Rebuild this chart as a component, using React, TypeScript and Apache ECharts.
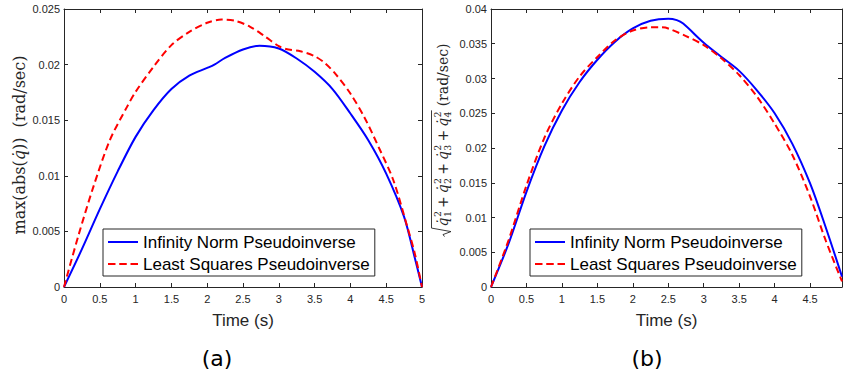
import React, { useEffect, useRef } from 'react';
import * as echarts from 'echarts';

// ---------- data: panel (a) max(abs(qdot)) ----------
const tA_inf = [0, 0.25, 0.5, 0.75, 1.0, 1.25, 1.5, 1.75, 2.0, 2.1, 2.25, 2.5, 2.73, 3.0, 3.25, 3.5, 3.75, 4.0, 4.25, 4.5, 4.75, 4.9, 5.0];
const vA_inf = [0, 0.0034, 0.0070, 0.0104, 0.0135, 0.0159, 0.0178, 0.0190, 0.0197, 0.0200, 0.0206, 0.02136, 0.0217, 0.02145, 0.02055, 0.01935, 0.0178, 0.0156, 0.0132, 0.0102, 0.0063, 0.0026, 0];
const tA_ls = [0, 0.2, 0.41, 0.64, 0.88, 1.0, 1.25, 1.5, 1.75, 2.0, 2.2, 2.4, 2.6, 2.8, 3.0, 3.1, 3.3, 3.5, 3.65, 3.8, 4.0, 4.2, 4.4, 4.6, 4.8, 4.9, 5.0];
const vA_ls = [0, 0.0046, 0.0090, 0.0132, 0.0162, 0.01755, 0.0198, 0.02175, 0.02295, 0.02376, 0.02405, 0.02392, 0.0234, 0.02256, 0.02166, 0.0214, 0.0212, 0.02076, 0.0201, 0.0191, 0.0174, 0.0152, 0.0125, 0.0096, 0.0053, 0.0030, 0];

// ---------- data: panel (b) 2-norm of qdot ----------
const tB_inf = [0, 0.25, 0.5, 0.75, 1.0, 1.25, 1.5, 1.75, 2.0, 2.25, 2.5, 2.62, 2.71, 3.0, 3.25, 3.5, 3.75, 4.0, 4.25, 4.5, 4.72, 4.95];
const vB_inf = [0, 0.0063, 0.0137, 0.0202, 0.0254, 0.0295, 0.0327, 0.0353, 0.0372, 0.0383, 0.0386, 0.0384, 0.0379, 0.03515, 0.0331, 0.0311, 0.0283, 0.0250, 0.0206, 0.0149, 0.0086, 0.0015];
const tB_ls = [0, 0.25, 0.5, 0.75, 1.0, 1.25, 1.5, 1.75, 2.0, 2.25, 2.4, 2.5, 2.75, 3.0, 3.25, 3.5, 3.75, 4.0, 4.25, 4.5, 4.72, 4.95];
const vB_ls = [0, 0.0068, 0.0146, 0.0214, 0.0264, 0.0303, 0.0331, 0.0355, 0.0369, 0.03736, 0.03736, 0.0372, 0.0361, 0.0348, 0.0329, 0.0305, 0.0274, 0.0235, 0.0190, 0.0130, 0.0067, 0.0008];

const seriesNames = ['Infinity Norm Pseudoinverse', 'Least Squares Pseudoinverse'];
const xTitle = 'Time (s)';
const panelTags = ['(a)', '(b)'];
const xMaxA = 5;
const xMaxB = 4.95;
const yMaxA = 0.025;
const yMaxB = 0.04;

const AX = '#262626';
const SANS = '"Liberation Sans", Arial, sans-serif';
const SERIF = '"DejaVu Serif", serif';
const ICON_SOLID = 'path://M0,0h30v2h-30z';
const ICON_DASH = 'path://M0,0h7.5v2h-7.5zM11.25,0h7.5v2h-7.5zM22.5,0h7.5v2h-7.5z';

const zip = (t: number[], v: number[]) => t.map((x, i) => [x, v[i]]);

let measureCtx: CanvasRenderingContext2D | null = null;
function measure(text: string, font: string): number {
  if (!measureCtx) measureCtx = document.createElement('canvas').getContext('2d');
  measureCtx!.font = font;
  return measureCtx!.measureText(text).width;
}

function buildRootLabel(cx: number, cy: number) {
  const base = 14;
  const sub = 9.5;
  const els: any[] = [];
  const txt = (s: string, x: number, y: number, size: number, italic = false) => ({
    type: 'text',
    x,
    y,
    style: {
      text: s,
      fontSize: size,
      fontFamily: SERIF,
      fontStyle: italic ? 'italic' : 'normal',
      fill: AX,
      align: 'left',
      verticalAlign: 'middle',
    },
  });
  let x = 10;
  for (let i = 1; i <= 4; i++) {
    els.push(txt('q\u0307', x, 0, base, true));
    x += measure('q', `italic ${base}px ${SERIF}`) + 0.5;
    els.push(txt(String(i), x, 4.5, sub));
    els.push(txt('2', x, -5.5, sub));
    x += measure('2', `${sub}px ${SERIF}`);
    if (i < 4) {
      x += 3;
      els.push(txt('+', x, 0, base));
      x += measure('+', `${base}px ${SERIF}`) + 3;
    }
  }
  const overEnd = x + 1;
  x += 5;
  els.push(txt('(rad/sec)', x, 0, base));
  x += measure('(rad/sec)', `${base}px ${SERIF}`);
  const total = x;
  const off = -total / 2;
  els.forEach((e) => (e.x += off));
  els.push({
    type: 'polyline',
    shape: {
      points: [
        [0 + off, 1.5],
        [2 + off, 0],
        [5 + off, 8],
        [8.5 + off, -11.5],
        [overEnd + off, -11.5],
      ],
    },
    style: { stroke: AX, lineWidth: 0.9, fill: null },
  });
  return { type: 'group', x: cx, y: cy, rotation: Math.PI / 2, children: els };
}

function xAxes(gridIndex: number, max: number) {
  const common = {
    type: 'value',
    gridIndex,
    min: 0,
    max,
    interval: 0.5,
    axisLine: { show: true, onZero: false, lineStyle: { color: AX, width: 1 } },
    axisTick: { show: true, inside: true, length: 4, lineStyle: { color: AX } },
    splitLine: { show: false },
  };
  return [
    {
      ...common,
      position: 'bottom',
      axisLabel: { show: true, margin: 6, fontSize: 11, color: AX, fontFamily: SANS, showMaxLabel: max === 5 },
    },
    { ...common, position: 'top', axisLabel: { show: false } },
  ];
}

function yAxes(gridIndex: number, max: number) {
  const common = {
    type: 'value',
    gridIndex,
    min: 0,
    max,
    interval: 0.005,
    axisLine: { show: true, onZero: false, lineStyle: { color: AX, width: 1 } },
    axisTick: { show: true, inside: true, length: 4, lineStyle: { color: AX } },
    splitLine: { show: false },
  };
  return [
    { ...common, position: 'left', axisLabel: { show: true, margin: 4, fontSize: 11, color: AX, fontFamily: SANS } },
    { ...common, position: 'right', axisLabel: { show: false } },
  ];
}

function legendAt(left: number) {
  return {
    left,
    top: 229,
    orient: 'vertical',
    data: [
      { name: seriesNames[0], icon: ICON_SOLID },
      { name: seriesNames[1], icon: ICON_DASH },
    ],
    selectedMode: false,
    itemWidth: 30,
    itemHeight: 2,
    itemGap: 4,
    padding: [4, 5, 3, 5],
    borderColor: AX,
    borderWidth: 1,
    borderRadius: 0,
    backgroundColor: '#ffffff',
    textStyle: { fontSize: 17, fontFamily: SANS, color: '#000', lineHeight: 18 },
  };
}

function lineSeries(name: string, data: number[][], axisIdx: number, dashed: boolean) {
  return {
    type: 'line',
    name,
    data,
    xAxisIndex: axisIdx,
    yAxisIndex: axisIdx,
    symbol: 'none',
    showSymbol: false,
    smooth: 0.3,
    lineStyle: dashed
      ? { color: '#ff0000', width: 2, type: [7, 4] }
      : { color: '#0000ff', width: 2, type: 'solid' },
    itemStyle: { color: dashed ? '#ff0000' : '#0000ff' },
  };
}

export default function App() {
  const ref = useRef<HTMLDivElement>(null);
  useEffect(() => {
    const chart = echarts.init(ref.current!, null, { renderer: 'svg' });
    const option: any = {
      animation: false,
      backgroundColor: '#ffffff',
      grid: [
        { left: 64, top: 9, width: 358, height: 278 },
        { left: 491, top: 9, width: 351, height: 278 },
      ],
      xAxis: [...xAxes(0, xMaxA), ...xAxes(1, xMaxB)],
      yAxis: [...yAxes(0, yMaxA), ...yAxes(1, yMaxB)],
      legend: [legendAt(103), legendAt(530)],
      series: [
        lineSeries(seriesNames[0], zip(tA_inf, vA_inf), 0, false),
        lineSeries(seriesNames[1], zip(tA_ls, vA_ls), 0, true),
        lineSeries(seriesNames[0], zip(tB_inf, vB_inf), 2, false),
        lineSeries(seriesNames[1], zip(tB_ls, vB_ls), 2, true),
      ],
      graphic: [
        {
          type: 'text',
          x: 243,
          y: 320,
          style: { text: xTitle, fontSize: 17, fontFamily: SANS, fill: AX, align: 'center', verticalAlign: 'middle' },
        },
        {
          type: 'text',
          x: 666.5,
          y: 320,
          style: { text: xTitle, fontSize: 17, fontFamily: SANS, fill: AX, align: 'center', verticalAlign: 'middle' },
        },
        {
          type: 'text',
          x: 217,
          y: 358,
          style: { text: panelTags[0], fontSize: 22, fontFamily: '"DejaVu Sans", sans-serif', fill: '#000', align: 'center', verticalAlign: 'middle' },
        },
        {
          type: 'text',
          x: 647,
          y: 358,
          style: { text: panelTags[1], fontSize: 22, fontFamily: '"DejaVu Sans", sans-serif', fill: '#000', align: 'center', verticalAlign: 'middle' },
        },
        {
          type: 'text',
          x: 19,
          y: 145,
          rotation: Math.PI / 2,
          style: {
            text: 'max(abs({q|q\u0307}))  (rad/sec)',
            fontSize: 16,
            fontFamily: SERIF,
            fill: AX,
            align: 'center',
            verticalAlign: 'middle',
            rich: { q: { fontSize: 16, fontFamily: SERIF, fontStyle: 'italic', fill: AX } },
          },
        },
        buildRootLabel(443, 140),
      ],
    };
    chart.setOption(option);
    return () => chart.dispose();
  }, []);
  return <div ref={ref} style={{ position: 'absolute', left: 0, top: 0, width: 844, height: 379 }} />;
}
